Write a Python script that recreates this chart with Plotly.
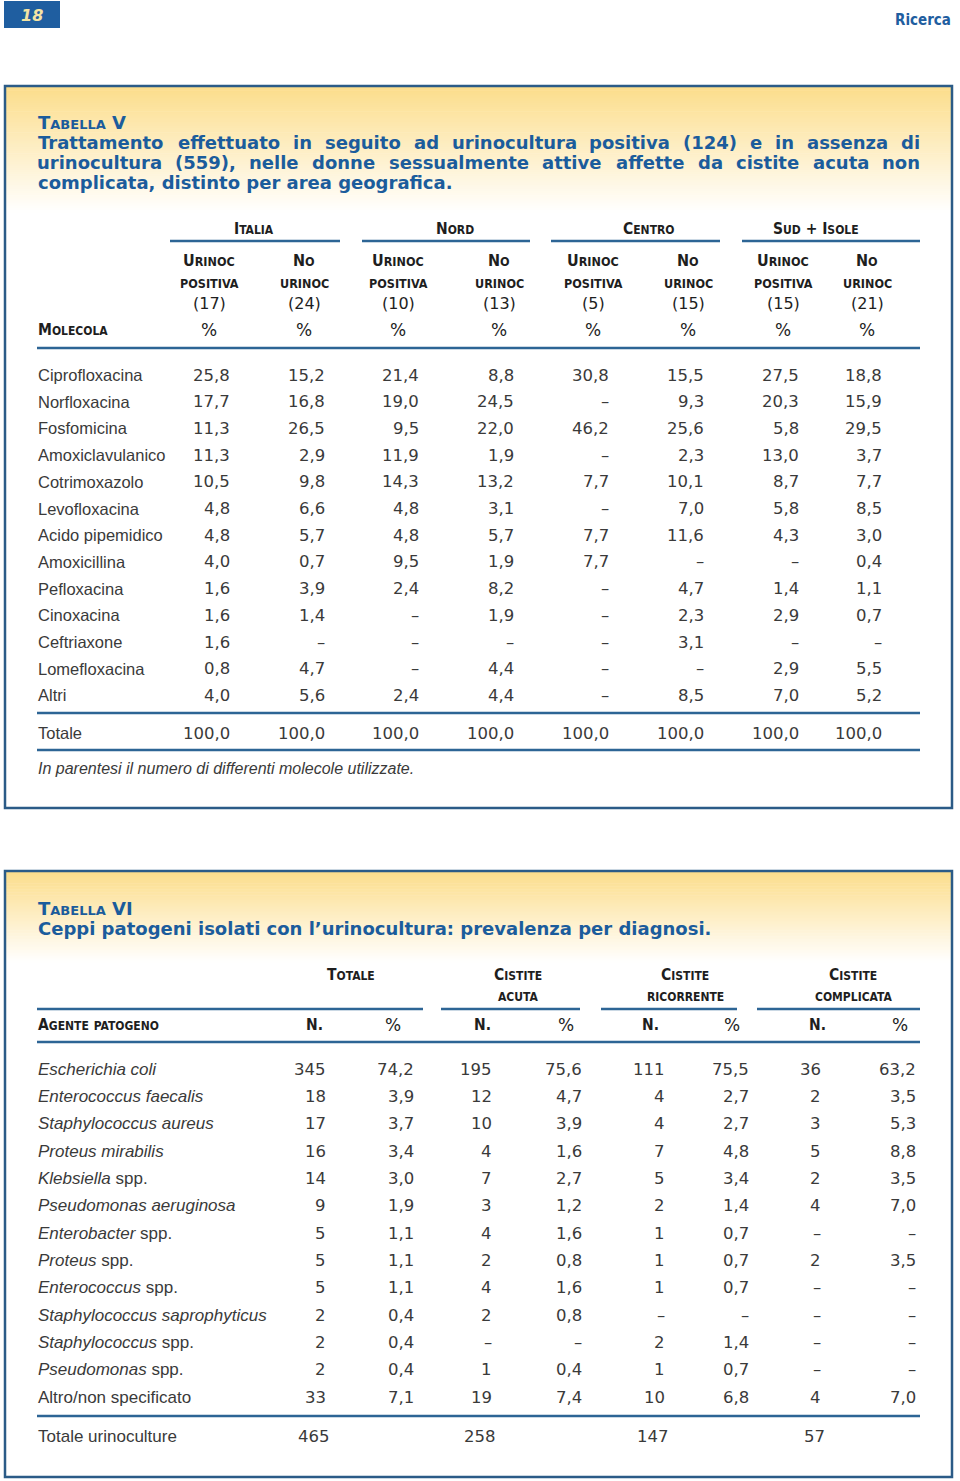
import plotly.graph_objects as go

# ---------------- DATA: Tabella V ----------------
gruppi_v = ["Italia", "Nord", "Centro", "Sud + Isole"]
sub1_v = ["Urinoc", "No", "Urinoc", "No", "Urinoc", "No", "Urinoc", "No"]
sub2_v = ["positiva", "urinoc", "positiva", "urinoc", "positiva", "urinoc", "positiva", "urinoc"]
n_molecole = [17, 24, 10, 13, 5, 15, 15, 21]

molecole = ["Ciprofloxacina", "Norfloxacina", "Fosfomicina", "Amoxiclavulanico", "Cotrimoxazolo",
            "Levofloxacina", "Acido pipemidico", "Amoxicillina", "Pefloxacina", "Cinoxacina",
            "Ceftriaxone", "Lomefloxacina", "Altri"]
italia_pos = [25.8, 17.7, 11.3, 11.3, 10.5, 4.8, 4.8, 4.0, 1.6, 1.6, 1.6, 0.8, 4.0]
italia_no = [15.2, 16.8, 26.5, 2.9, 9.8, 6.6, 5.7, 0.7, 3.9, 1.4, None, 4.7, 5.6]
nord_pos = [21.4, 19.0, 9.5, 11.9, 14.3, 4.8, 4.8, 9.5, 2.4, None, None, None, 2.4]
nord_no = [8.8, 24.5, 22.0, 1.9, 13.2, 3.1, 5.7, 1.9, 8.2, 1.9, None, 4.4, 4.4]
centro_pos = [30.8, None, 46.2, None, 7.7, None, 7.7, 7.7, None, None, None, None, None]
centro_no = [15.5, 9.3, 25.6, 2.3, 10.1, 7.0, 11.6, None, 4.7, 2.3, 3.1, None, 8.5]
sud_pos = [27.5, 20.3, 5.8, 13.0, 8.7, 5.8, 4.3, None, 1.4, 2.9, None, 2.9, 7.0]
sud_no = [18.8, 15.9, 29.5, 3.7, 7.7, 8.5, 3.0, 0.4, 1.1, 0.7, None, 5.5, 5.2]
totale_v = [100.0, 100.0, 100.0, 100.0, 100.0, 100.0, 100.0, 100.0]

# ---------------- DATA: Tabella VI ----------------
gruppi_vi = ["Totale", "Cistite", "Cistite", "Cistite"]
sottogruppi_vi = ["", "acuta", "ricorrente", "complicata"]
agenti = ["Escherichia coli", "Enterococcus faecalis", "Staphylococcus aureus", "Proteus mirabilis",
          "Klebsiella spp.", "Pseudomonas aeruginosa", "Enterobacter spp.", "Proteus spp.",
          "Enterococcus spp.", "Staphylococcus saprophyticus", "Staphylococcus spp.",
          "Pseudomonas spp.", "Altro/non specificato"]
tot_n = [345, 18, 17, 16, 14, 9, 5, 5, 5, 2, 2, 2, 33]
tot_pct = [74.2, 3.9, 3.7, 3.4, 3.0, 1.9, 1.1, 1.1, 1.1, 0.4, 0.4, 0.4, 7.1]
acuta_n = [195, 12, 10, 4, 7, 3, 4, 2, 4, 2, None, 1, 19]
acuta_pct = [75.6, 4.7, 3.9, 1.6, 2.7, 1.2, 1.6, 0.8, 1.6, 0.8, None, 0.4, 7.4]
ric_n = [111, 4, 4, 7, 5, 2, 1, 1, 1, None, 2, 1, 10]
ric_pct = [75.5, 2.7, 2.7, 4.8, 3.4, 1.4, 0.7, 0.7, 0.7, None, 1.4, 0.7, 6.8]
comp_n = [36, 2, 3, 5, 2, 4, None, 2, None, None, None, None, 4]
comp_pct = [63.2, 3.5, 5.3, 8.8, 3.5, 7.0, None, 3.5, None, None, None, None, 7.0]
totali_urinoculture = [465, 258, 147, 57]

# ---------------- TEXTS ----------------
pagina = "18"
sezione = "Ricerca"
titolo_v = "Tabella V"
desc_v = ["Trattamento effettuato in seguito ad urinocultura positiva (124) e in assenza di",
          "urinocultura (559), nelle donne sessualmente attive affette da cistite acuta non",
          "complicata, distinto per area geografica."]
nota_v = "In parentesi il numero di differenti molecole utilizzate."
titolo_vi = "Tabella VI"
desc_vi = "Ceppi patogeni isolati con l’urinocultura: prevalenza per diagnosi."

# ---------------- STYLE ----------------
W, H = 960, 1481
BLUE_TXT = "#1b5c9c"
RULE = "#2d6595"
BORDER = "#2b5b87"
TXT = "#3a3a3a"
HEAD = "#1e1e1e"
NARROW = "Liberation Sans Narrow, DejaVu Sans Condensed, Arial Narrow, sans-serif"
BODY = "Liberation Sans, Arial, sans-serif"
NUM = "DejaVu Sans, sans-serif"
TITLE = "DejaVu Sans, sans-serif"

fig = go.Figure()


def ann(x, y, text, size, color=TXT, family=BODY, anchor="left", weight="normal", style="normal"):
    fig.add_annotation(x=x, y=y, xref="x", yref="y", text=text, showarrow=False,
                       xanchor=anchor, yanchor="middle", borderpad=0,
                       font=dict(size=size, color=color, family=family, weight=weight, style=style))


def rule(x0, x1, y, w=2.5, color=RULE):
    fig.add_shape(type="line", x0=x0, x1=x1, y0=y, y1=y, xref="x", yref="y",
                  line=dict(color=color, width=w))


def gradient_box(x0, x1, y0, y1, fade_end):
    top = (252, 221, 138)
    n = 60
    step = (fade_end - y0) / n
    for i in range(n):
        t = (i + 0.5) / n
        c = tuple(round(a + (255 - a) * t) for a in top)
        fig.add_shape(type="rect", x0=x0, x1=x1, y0=y0 + i * step, y1=y0 + (i + 1) * step + 0.6,
                      xref="x", yref="y", line_width=0, fillcolor=f"rgb{c}", layer="below")
    fig.add_shape(type="rect", x0=x0, x1=x1, y0=y0, y1=y1, xref="x", yref="y",
                  line=dict(color=BORDER, width=2.5), fillcolor="rgba(0,0,0,0)")


def sc(s, small):
    """small caps: uppercase letters big, lowercase letters rendered as small capitals"""
    out, run = "", ""
    for ch in s:
        if ch.islower():
            run += ch
        else:
            if run:
                out += f"<span style='font-size:{small}px'>{run.upper()}</span>"
                run = ""
            out += ch
    if run:
        out += f"<span style='font-size:{small}px'>{run.upper()}</span>"
    return out


def fmt(v, dec=1):
    if v is None:
        return "–"
    if dec == 0:
        return str(v)
    return f"{v:.{dec}f}".replace(".", ",")


CW = {'a': .675, 'b': .716, 'c': .593, 'd': .716, 'e': .678, 'f': .435, 'g': .716, 'h': .712,
      'i': .343, 'j': .343, 'k': .665, 'l': .343, 'm': 1.042, 'n': .712, 'o': .687, 'p': .716,
      'q': .716, 'r': .493, 's': .595, 't': .478, 'u': .712, 'v': .652, 'w': .924, 'x': .645,
      'y': .652, 'z': .582, '(': .457, ')': .457, ',': .380, '.': .380, ':': .400, 'T': .682}


def wwidth(word, size):
    return sum(CW.get(ch, .696 if ch.isdigit() else .68) for ch in word) * size


def justified(line, y, x0, x1, size):
    words = line.split(" ")
    widths = [wwidth(w, size) for w in words]
    gap = (x1 - x0 - sum(widths)) / (len(words) - 1)
    x = x0
    for w, wd in zip(words, widths):
        ann(x + wd / 2, y, w, size, BLUE_TXT, TITLE, "center", "bold")
        x += wd + gap


# ---------------- PAGE HEADER ----------------
fig.add_shape(type="rect", x0=4, x1=60, y0=1, y1=28, xref="x", yref="y",
              line_width=0, fillcolor="#1f5ea0")
ann(32, 15, pagina, 16, "#f4e4a4", TITLE, "center", "bold", "italic")
ann(952, 20, sezione, 15, "#1f5ea0", NARROW, "right", "bold")

# ---------------- TABELLA V ----------------
L, R = 37, 920
gradient_box(5, 952, 86, 808, 212)
ann(L, 122, sc(titolo_v, 13), 18, BLUE_TXT, TITLE, "left", "bold")
justified(desc_v[0], 142, L, R, 18)
justified(desc_v[1], 162, L, R, 18)
ann(L, 182, desc_v[2], 18, BLUE_TXT, TITLE, "left", "bold")

grp_centers_v = [254, 455, 649, 816]
grp_spans_v = [(170, 340), (362, 530), (551, 720), (742, 920)]
for g, cx, (a, b) in zip(gruppi_v, grp_centers_v, grp_spans_v):
    ann(cx, 229, sc(g, 12), 15.5, HEAD, NARROW, "center", "bold")
    rule(a, b, 241)

col_centers_v = [209, 304, 398, 499, 593, 688, 783, 867]
col_right_v = [231, 326, 420, 515, 610, 705, 800, 883]
for i, cx in enumerate(col_centers_v):
    ann(cx, 260, sc(sub1_v[i], 12.5), 16, HEAD, NARROW, "center", "bold")
    ann(cx, 283, sub2_v[i].upper(), 12.5, HEAD, NARROW, "center", "bold")
    ann(cx, 303, f"({n_molecole[i]})", 16, HEAD, NUM, "center")
    ann(cx, 330, "%", 17, HEAD, NUM, "center")
ann(L, 330, sc("Molecola", 12), 15.5, HEAD, NARROW, "left", "bold")
rule(L, R, 348)

cols_v = [italia_pos, italia_no, nord_pos, nord_no, centro_pos, centro_no, sud_pos, sud_no]
row0_v, step_v = 375, 26.7
for r, name in enumerate(molecole):
    y = row0_v + r * step_v
    ann(L, y, name, 16.5, TXT, BODY, "left")
    for c, col in enumerate(cols_v):
        ann(col_right_v[c], y, fmt(col[r]), 16.5, TXT, NUM, "right")
rule(L, R, 713)
ann(L, 733, "Totale", 16.5, TXT, BODY, "left")
for c, v in enumerate(totale_v):
    ann(col_right_v[c], 733, fmt(v), 16.5, TXT, NUM, "right")
rule(L, R, 750)
ann(L, 768, nota_v, 16, TXT, BODY, "left", "normal", "italic")

# ---------------- TABELLA VI ----------------
gradient_box(5, 952, 871, 1477, 962)
ann(L, 908, sc(titolo_vi, 13), 18, BLUE_TXT, TITLE, "left", "bold")
ann(L, 928, desc_vi, 18, BLUE_TXT, TITLE, "left", "bold")

grp_centers_vi = [351, 518, 685, 853]
grp_spans_vi = [(37, 423), (441, 580), (601, 737), (757, 920)]
for g, s, cx, (a, b) in zip(gruppi_vi, sottogruppi_vi, grp_centers_vi, grp_spans_vi):
    ann(cx, 975, sc(g, 12), 15.5, HEAD, NARROW, "center", "bold")
    if s:
        ann(cx, 997, s.upper(), 12, HEAD, NARROW, "center", "bold")
    rule(a, b, 1009)

n_centers = [314, 482, 650, 817]
p_centers = [393, 566, 732, 900]
n_right = [327, 493, 666, 822]
p_right = [415, 583, 750, 917]
ann(L, 1025, sc("Agente patogeno", 12), 15.5, HEAD, NARROW, "left", "bold")
for cx in n_centers:
    ann(cx, 1025, "N.", 15.5, HEAD, NARROW, "center", "bold")
for cx in p_centers:
    ann(cx, 1025, "%", 17, HEAD, NUM, "center")
rule(L, R, 1042)


def agente_html(name):
    if name.startswith("Altro"):
        return name
    if name.endswith(" spp."):
        return f"<i>{name[:-5]}</i> spp."
    return f"<i>{name}</i>"


n_cols = [tot_n, acuta_n, ric_n, comp_n]
p_cols = [tot_pct, acuta_pct, ric_pct, comp_pct]
row0_vi, step_vi = 1069, 27.35
for r, name in enumerate(agenti):
    y = row0_vi + r * step_vi
    ann(L, y, agente_html(name), 17, TXT, BODY, "left")
    for c in range(4):
        ann(n_right[c], y, fmt(n_cols[c][r], 0), 16.5, TXT, NUM, "right")
        ann(p_right[c], y, fmt(p_cols[c][r]), 16.5, TXT, NUM, "right")
rule(L, R, 1416)
ann(L, 1436, "Totale urinoculture", 17, TXT, BODY, "left")
for c, v in enumerate(totali_urinoculture):
    ann(n_right[c] + 4, 1436, str(v), 16.5, TXT, NUM, "right")

# ---------------- LAYOUT ----------------
fig.update_layout(
    width=W, height=H, autosize=False,
    margin=dict(l=0, r=0, t=0, b=0, pad=0),
    paper_bgcolor="white", plot_bgcolor="white", showlegend=False,
    xaxis=dict(range=[0, W], visible=False, fixedrange=True),
    yaxis=dict(range=[H, 0], visible=False, fixedrange=True),
)

fig.write_html("out.html", config={"displayModeBar": False},
               post_script="document.body.style.margin='0';")
